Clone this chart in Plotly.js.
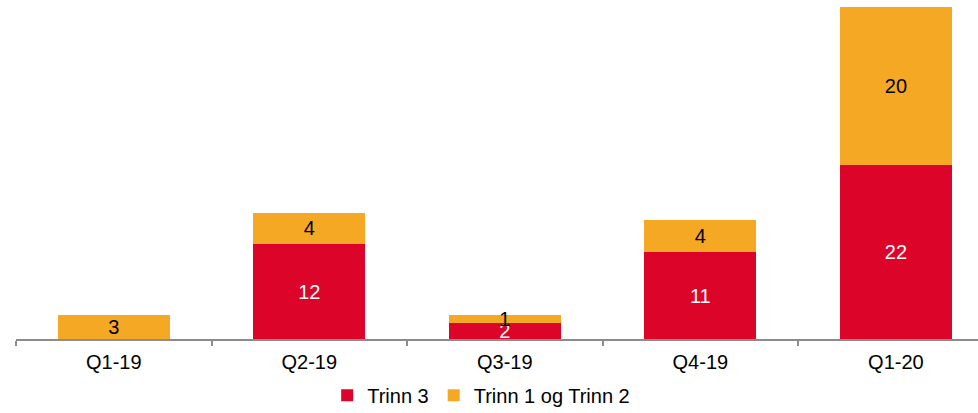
<!DOCTYPE html>
<html>
<head>
<meta charset="utf-8">
<script src="https://cdn.plot.ly/plotly-3.0.1.min.js"></script>
<style>html,body{margin:0;padding:0;background:#fff;}#chart{width:978px;height:413px;}</style>
</head>
<body>
<div id="chart"></div>
<script>
const categories = ["Q1-19", "Q2-19", "Q3-19", "Q4-19", "Q1-20"];
const trinn3 = [0, 12, 2, 11, 22];
const trinn12 = [3, 4, 1, 4, 20];
const seriesNames = ["Trinn 3", "Trinn 1 og Trinn 2"];

const lbl = arr => arr.map(v => v > 0 ? String(v) : "");
const FONT = "Liberation Sans, Arial, sans-serif";

const traces = [
  {
    type: "bar", name: seriesNames[0], x: categories, y: trinn3,
    marker: {color: "#DC0529"},
    text: lbl(trinn3), textposition: "inside", insidetextanchor: "middle",
    textangle: 0, constraintext: "none",
    textfont: {color: "#ffffff", size: 20, family: FONT},
    hoverinfo: "x+y+name"
  },
  {
    type: "bar", name: seriesNames[1], x: categories, y: trinn12,
    marker: {color: "#F5A823"},
    text: lbl(trinn12), textposition: "inside", insidetextanchor: "middle",
    textangle: 0, constraintext: "none",
    textfont: {color: "#000000", size: 20, family: FONT},
    hoverinfo: "x+y+name"
  }
];

const layout = {
  width: 978, height: 413,
  margin: {l: 16, r: 0, t: 7, b: 74, autoexpand: false},
  barmode: "stack",
  bargap: 0.427,
  paper_bgcolor: "#ffffff", plot_bgcolor: "#ffffff",
  font: {family: FONT, size: 20, color: "#000"},
  showlegend: true,
  legend: {orientation: "h", x: 0.492, xanchor: "center", xref: "container",
           y: 0.043, yanchor: "middle", yref: "container",
           font: {size: 20}, itemwidth: 30, traceorder: "normal"},
  xaxis: {
    type: "category", range: [-0.5, 4.42], showline: true, linecolor: "#8c8c8c", linewidth: 2,
    ticks: "outside", tickson: "boundaries", ticklen: 5, tickcolor: "#8c8c8c", tickwidth: 2,
    ticklabelstandoff: 4,
    showgrid: false, zeroline: false, tickfont: {size: 20}, automargin: false
  },
  yaxis: {
    range: [0, 42], visible: false, showgrid: false, zeroline: false
  }
};

Plotly.newPlot("chart", traces, layout, {displayModeBar: false, staticPlot: true});
</script>
</body>
</html>
